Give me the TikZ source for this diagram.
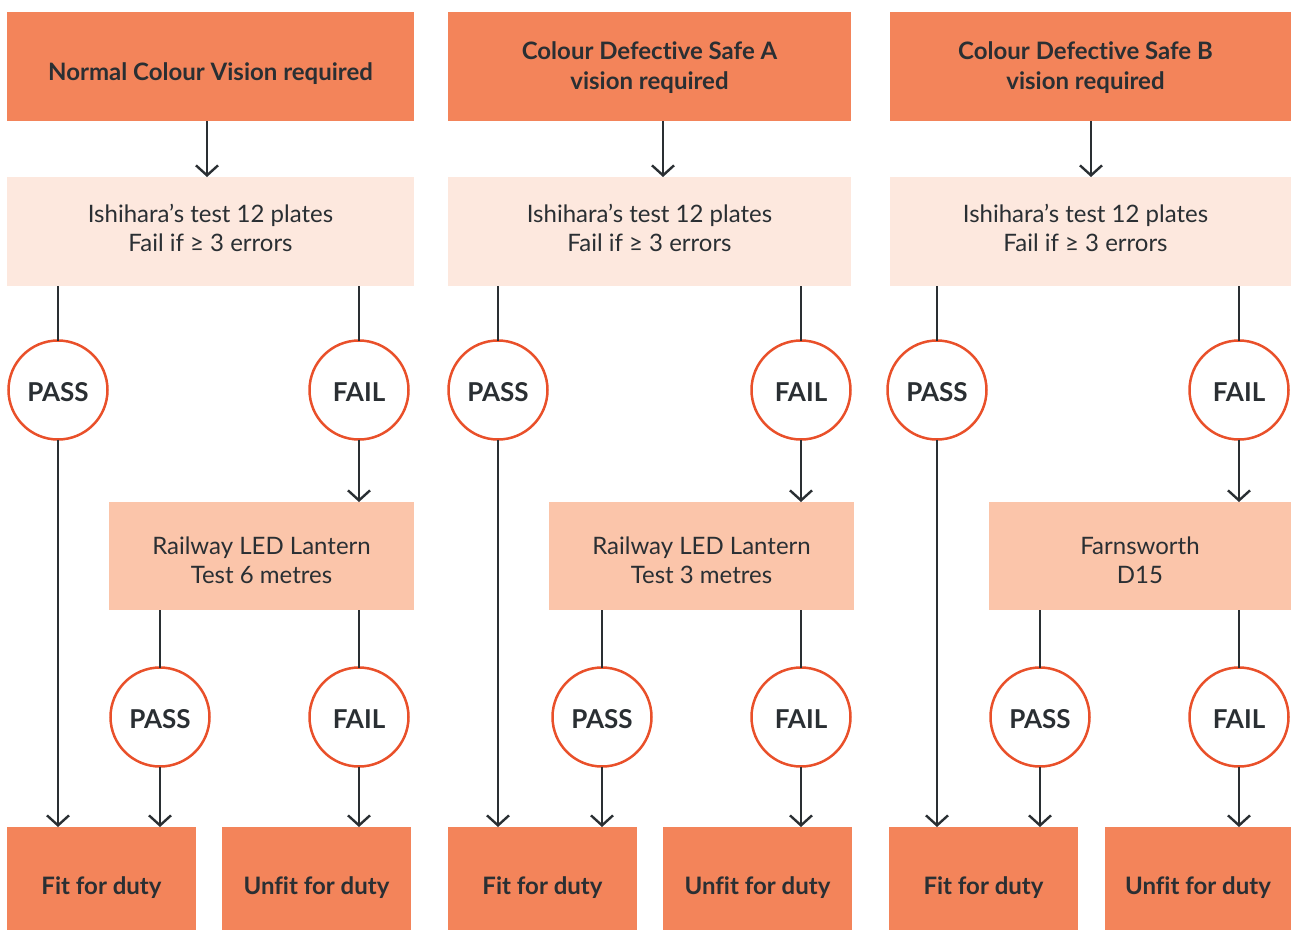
\documentclass[tikz,border=0pt]{standalone}
\usepackage{fontspec}
\setmainfont{Lato}[Ligatures=NoCommon]
\usetikzlibrary{arrows.meta}
\definecolor{headfill}{HTML}{F3845A}
\definecolor{ishfill}{HTML}{FDE8DE}
\definecolor{testfill}{HTML}{FBC5AA}
\definecolor{ringcol}{HTML}{E9502A}
\definecolor{inkcol}{HTML}{2A2F33}
\tikzset{
  box/.style={rectangle, inner sep=0pt, outer sep=0pt, align=center, text=inkcol, font=\fontsize{24}{29}\selectfont},
  headbox/.style={box, fill=headfill, font=\bfseries\fontsize{24}{30}\selectfont},
  ishbox/.style={box, fill=ishfill},
  testbox/.style={box, fill=testfill},
  ring/.style={circle, draw=ringcol, line width=2.5pt, fill=white, minimum size=99pt, inner sep=0pt, outer sep=0pt, text=inkcol, font=\bfseries\fontsize{26}{30}\selectfont},
  link/.style={draw=inkcol, line width=2.4pt},
  arr/.style={link, -{Straight Barb[length=10pt, width=22pt, line width=2.4pt]}},
}
% shift the glyphs of a line without changing the box size
\newcommand{\lowered}[2]{\raisebox{-#1}[\height][\depth]{#2}}
% two centred lines
\newcommand{\twolines}[2]{\begin{tabular}{@{}c@{}}#1\\#2\end{tabular}}
\begin{document}
\begin{tikzpicture}[x=1pt, y=-1pt]
\useasboundingbox (0,0) rectangle (1291,930);

% ---------- column 1 ----------
\node[headbox, minimum width=407pt, minimum height=109pt] (c1top) at (210.5,66.5) {\lowered{7pt}{Normal Colour Vision required}};
\node[ishbox, minimum width=407pt, minimum height=109pt] (c1ish) at (210.5,231.5) {\twolines{Ishihara’s test 12 plates}{Fail if ≥ 3 errors}};
\node[ring] (c1pass) at (58,390) {\lowered{2pt}{PASS}};
\node[ring] (c1fail) at (359,390) {\lowered{2pt}{FAIL}};
\node[testbox, minimum width=305pt, minimum height=108pt] (c1test) at (261.5,556) {\lowered{7pt}{\twolines{Railway LED Lantern}{Test 6 metres}}};
\node[ring] (c1pass2) at (160,717) {\lowered{2pt}{PASS}};
\node[ring] (c1fail2) at (359,717) {\lowered{2pt}{FAIL}};
\node[headbox, minimum width=189pt, minimum height=103pt] (c1fit) at (101.5,878.5) {\lowered{9pt}{Fit for duty}};
\node[headbox, minimum width=189pt, minimum height=103pt] (c1unfit) at (316.5,878.5) {\lowered{9pt}{Unfit for duty}};

% ---------- column 2 ----------
\node[headbox, minimum width=403pt, minimum height=109pt] (c2top) at (649.5,66.5) {\lowered{2pt}{\twolines{Colour Defective Safe A}{vision required}}};
\node[ishbox, minimum width=403pt, minimum height=109pt] (c2ish) at (649.5,231.5) {\twolines{Ishihara’s test 12 plates}{Fail if ≥ 3 errors}};
\node[ring] (c2pass) at (498,390) {\lowered{2pt}{PASS}};
\node[ring] (c2fail) at (801,390) {\lowered{2pt}{FAIL}};
\node[testbox, minimum width=305pt, minimum height=108pt] (c2test) at (701.5,556) {\lowered{7pt}{\twolines{Railway LED Lantern}{Test 3 metres}}};
\node[ring] (c2pass2) at (602,717) {\lowered{2pt}{PASS}};
\node[ring] (c2fail2) at (801,717) {\lowered{2pt}{FAIL}};
\node[headbox, minimum width=189pt, minimum height=103pt] (c2fit) at (542.5,878.5) {\lowered{9pt}{Fit for duty}};
\node[headbox, minimum width=189pt, minimum height=103pt] (c2unfit) at (757.5,878.5) {\lowered{9pt}{Unfit for duty}};

% ---------- column 3 ----------
\node[headbox, minimum width=401pt, minimum height=109pt] (c3top) at (1090.5,66.5) {\kern-10pt\lowered{2pt}{\twolines{Colour Defective Safe B}{vision required}}};
\node[ishbox, minimum width=401pt, minimum height=109pt] (c3ish) at (1090.5,231.5) {\kern-10pt\twolines{Ishihara’s test 12 plates}{Fail if ≥ 3 errors}};
\node[ring] (c3pass) at (937,390) {\lowered{2pt}{PASS}};
\node[ring] (c3fail) at (1239,390) {\lowered{2pt}{FAIL}};
\node[testbox, minimum width=302pt, minimum height=108pt] (c3test) at (1140,556) {\lowered{7pt}{\twolines{Farnsworth}{D15}}};
\node[ring] (c3pass2) at (1040,717) {\lowered{2pt}{PASS}};
\node[ring] (c3fail2) at (1239,717) {\lowered{2pt}{FAIL}};
\node[headbox, minimum width=189pt, minimum height=103pt] (c3fit) at (983.5,878.5) {\lowered{9pt}{Fit for duty}};
\node[headbox, minimum width=186pt, minimum height=103pt] (c3unfit) at (1198,878.5) {\lowered{9pt}{Unfit for duty}};

% ---------- connectors ----------
\draw[arr] (c1top.south -| 207,0) -- (c1ish.north -| 207,0);
\draw[arr] (c2top.south -| 663,0) -- (c2ish.north -| 663,0);
\draw[arr] (c3top.south -| 1091,0) -- (c3ish.north -| 1091,0);
\foreach \c in {c1,c2,c3}{
  \draw[link] (\c ish.south -| \c pass.north) -- (\c pass.north);
  \draw[link] (\c ish.south -| \c fail.north) -- (\c fail.north);
  \draw[arr] (\c pass.south) -- (\c pass.south |- \c fit.north);
  \draw[arr] (\c fail.south) -- (\c fail.south |- \c test.north);
  \draw[link] (\c test.south -| \c pass2.north) -- (\c pass2.north);
  \draw[link] (\c test.south -| \c fail2.north) -- (\c fail2.north);
  \draw[arr] (\c pass2.south) -- (\c pass2.south |- \c fit.north);
  \draw[arr] (\c fail2.south) -- (\c fail2.south |- \c unfit.north);
}
\end{tikzpicture}
\end{document}
